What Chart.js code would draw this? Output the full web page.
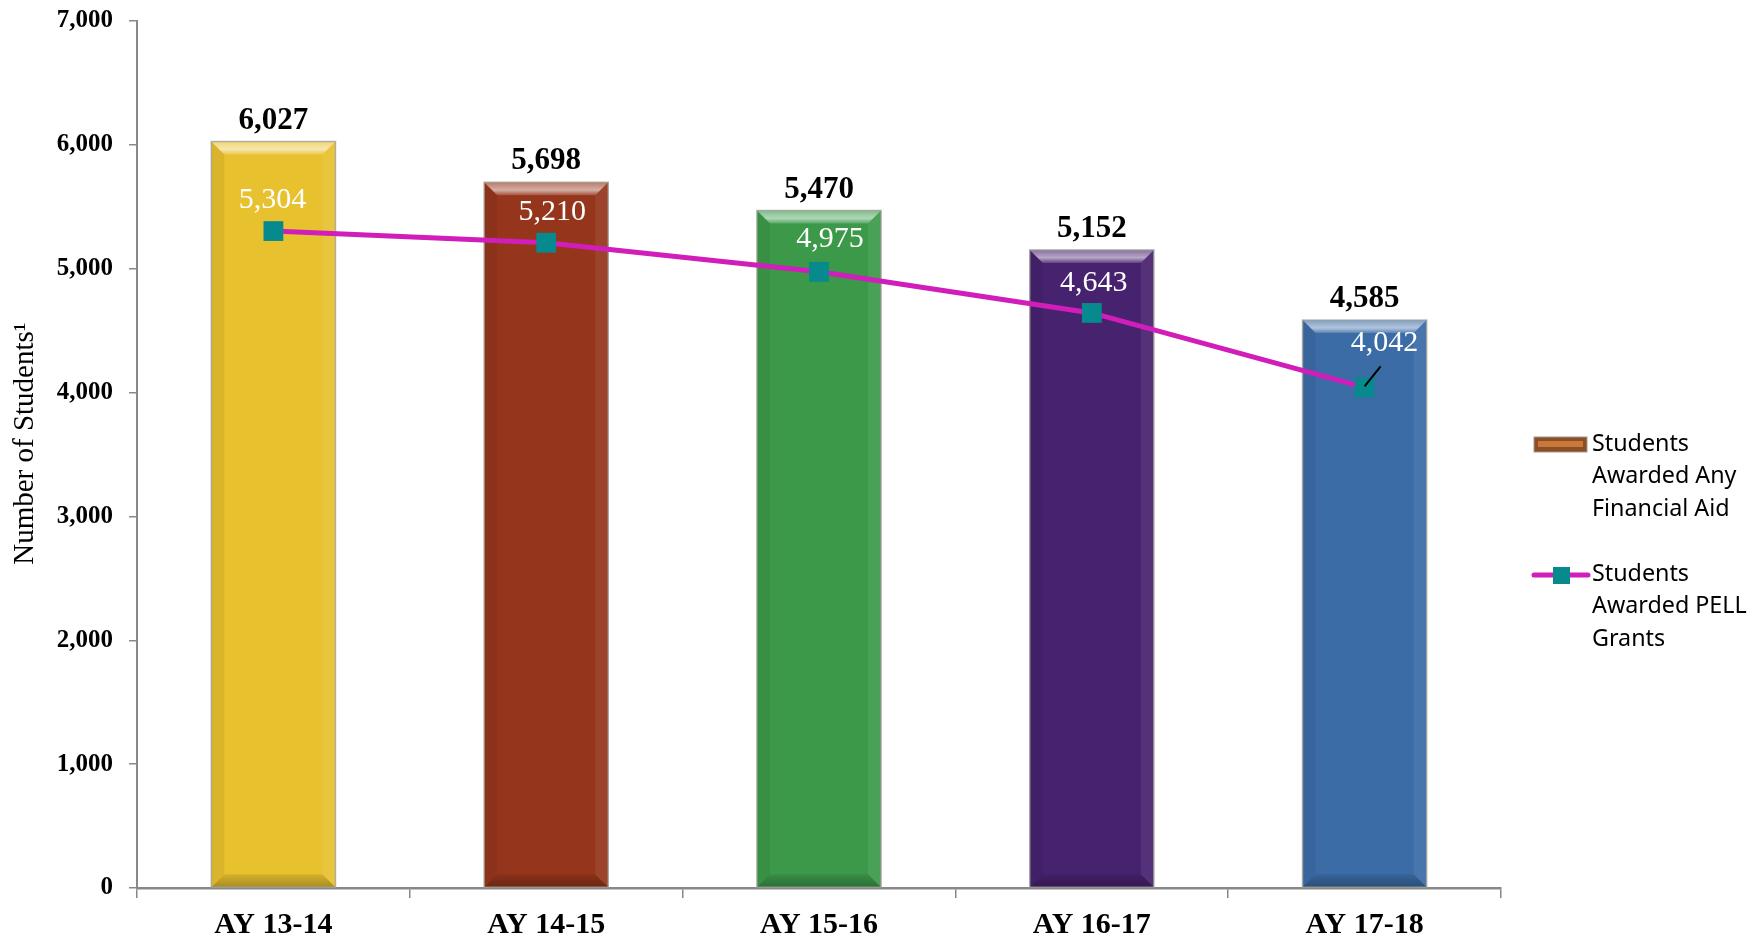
<!DOCTYPE html>
<html>
<head>
<meta charset="utf-8">
<script src="https://cdn.jsdelivr.net/npm/chart.js@4/dist/chart.umd.min.js"></script>
<style>
  html, body { margin: 0; padding: 0; background: #ffffff; }
  #wrap { width: 1758px; height: 940px; position: relative; }
</style>
</head>
<body>
<div id="wrap"><canvas id="c" width="1758" height="940"></canvas></div>
<script>
// ---- data ----
const categories = ['AY 13-14', 'AY 14-15', 'AY 15-16', 'AY 16-17', 'AY 17-18'];
const anyAidValues = [6027, 5698, 5470, 5152, 4585];
const pellValues = [5304, 5210, 4975, 4643, 4042];
const seriesNames = [['Students', 'Awarded Any', 'Financial Aid'], ['Students', 'Awarded PELL', 'Grants']];
const yTitle = 'Number of Students¹';
const yTickMin = 0, yTickMax = 7000, yTickStep = 1000;

// ---- styles ----
const barColors = ['#E8C12F', '#95351C', '#3C994A', '#47226F', '#3B6CA6'];
const lineColor = '#D11DB9';
const pointColor = '#078A8D';
const serif = '"Liberation Serif", "Times New Roman", serif';
const sans = '"Noto Sans", "Liberation Sans", sans-serif';
const lineLabelOffsets = [[-1, -31], [6, -31], [11, -33], [2, -30], [20, -44]];
const leaderIndex = 4;

const fmt = v => v.toLocaleString('en-US');

const bevelPlugin = {
  id: 'bevel',
  afterDatasetDraw(chart, args) {
    if (args.index !== 0) return;
    const ctx = chart.ctx;
    const meta = chart.getDatasetMeta(0);
    meta.data.forEach(bar => {
      const w = bar.width;
      const l = bar.x - w / 2, r = bar.x + w / 2, t = bar.y, b = bar.base;
      const bv = 13;
      ctx.save();
      let g = ctx.createLinearGradient(0, t, 0, t + bv);
      g.addColorStop(0, 'rgba(255,255,255,0.35)');
      g.addColorStop(0.6, 'rgba(255,255,255,0.6)');
      g.addColorStop(1, 'rgba(255,255,255,0.15)');
      ctx.fillStyle = g;
      ctx.beginPath();
      ctx.moveTo(l, t); ctx.lineTo(r, t); ctx.lineTo(r - bv, t + bv); ctx.lineTo(l + bv, t + bv); ctx.closePath();
      ctx.fill();
      g = ctx.createLinearGradient(0, b - bv, 0, b);
      g.addColorStop(0, 'rgba(0,0,0,0.08)');
      g.addColorStop(1, 'rgba(0,0,0,0.28)');
      ctx.fillStyle = g;
      ctx.beginPath();
      ctx.moveTo(l, b); ctx.lineTo(r, b); ctx.lineTo(r - bv, b - bv); ctx.lineTo(l + bv, b - bv); ctx.closePath();
      ctx.fill();
      ctx.fillStyle = 'rgba(0,0,0,0.06)';
      ctx.beginPath();
      ctx.moveTo(l, t); ctx.lineTo(l + bv, t + bv); ctx.lineTo(l + bv, b - bv); ctx.lineTo(l, b); ctx.closePath();
      ctx.fill();
      ctx.fillStyle = 'rgba(255,255,255,0.07)';
      ctx.beginPath();
      ctx.moveTo(r, t); ctx.lineTo(r - bv, t + bv); ctx.lineTo(r - bv, b - bv); ctx.lineTo(r, b); ctx.closePath();
      ctx.fill();
      ctx.strokeStyle = 'rgba(160,160,150,0.8)';
      ctx.lineWidth = 1.5;
      ctx.strokeRect(l, t, w, b - t);
      ctx.restore();
    });
  }
};

const labelPlugin = {
  id: 'valueLabels',
  afterDatasetsDraw(chart) {
    const ctx = chart.ctx;
    ctx.save();
    ctx.textAlign = 'center';
    ctx.textBaseline = 'middle';
    ctx.font = 'bold 31px ' + serif;
    ctx.fillStyle = '#000000';
    chart.getDatasetMeta(0).data.forEach((bar, i) => {
      ctx.fillText(fmt(chart.data.datasets[0].data[i]), bar.x, bar.y - 21);
    });
    const lm = chart.getDatasetMeta(1);
    lm.data.forEach((pt, i) => {
      const off = lineLabelOffsets[i];
      if (i === leaderIndex) {
        ctx.strokeStyle = '#000000';
        ctx.lineWidth = 2;
        ctx.beginPath();
        ctx.moveTo(pt.x, pt.y - 1);
        ctx.lineTo(pt.x + 16, pt.y - 21);
        ctx.stroke();
      }
      ctx.font = '30px ' + serif;
      ctx.fillStyle = '#ffffff';
      ctx.fillText(fmt(chart.data.datasets[1].data[i]), pt.x + off[0], pt.y + off[1]);
    });
    ctx.restore();
  }
};

const legendPlugin = {
  id: 'customLegend',
  afterDraw(chart) {
    const ctx = chart.ctx;
    const x0 = chart.chartArea.right + 31;
    ctx.save();
    const sy = 437;
    ctx.fillStyle = '#8E4D22';
    ctx.fillRect(x0 + 2, sy, 53, 15);
    ctx.fillStyle = '#C7783B';
    ctx.fillRect(x0 + 6, sy + 4, 45, 6);
    ctx.strokeStyle = '#9a9a9a';
    ctx.lineWidth = 1;
    ctx.strokeRect(x0 + 2, sy, 53, 15);
    const ly = 575;
    ctx.strokeStyle = lineColor;
    ctx.lineWidth = 5;
    ctx.lineCap = 'round';
    ctx.beginPath();
    ctx.moveTo(x0 + 2, ly); ctx.lineTo(x0 + 56, ly);
    ctx.stroke();
    ctx.fillStyle = pointColor;
    ctx.fillRect(x0 + 21, ly - 8, 17, 17);
    ctx.fillStyle = '#000000';
    ctx.font = '23.3px ' + sans;
    ctx.textAlign = 'left';
    ctx.textBaseline = 'middle';
    const tx = x0 + 60;
    seriesNames[0].forEach((s, k) => ctx.fillText(s, tx, 444 + k * 32.5));
    seriesNames[1].forEach((s, k) => ctx.fillText(s, tx, 574 + k * 32.5));
    ctx.restore();
  }
};

new Chart(document.getElementById('c'), {
  data: {
    labels: categories,
    datasets: [
      {
        type: 'bar',
        label: seriesNames[0].join(' '),
        data: anyAidValues,
        backgroundColor: barColors,
        borderWidth: 0,
        barPercentage: 0.455,
        categoryPercentage: 1.0,
        order: 1
      },
      {
        type: 'line',
        label: seriesNames[1].join(' '),
        data: pellValues,
        borderColor: lineColor,
        borderWidth: 5,
        tension: 0,
        pointStyle: 'rect',
        pointRadius: 14,
        pointHoverRadius: 14,
        pointBackgroundColor: pointColor,
        pointBorderColor: pointColor,
        pointBorderWidth: 0,
        order: 0
      }
    ]
  },
  options: {
    responsive: false,
    animation: false,
    devicePixelRatio: 1,
    layout: { padding: { top: 21, right: 257, bottom: 0, left: 0 } },
    plugins: {
      legend: { display: false },
      tooltip: { enabled: false }
    },
    scales: {
      x: {
        grid: { display: true, drawOnChartArea: false, offset: true, tickLength: 10, color: '#888888', lineWidth: 1.5 },
        border: { display: true, color: '#888888', width: 2.5 },
        ticks: { color: '#000000', font: { family: serif, size: 30, weight: 'bold' }, padding: 9, maxRotation: 0 },
        afterFit(scale) { scale.height = 52; }
      },
      y: {
        min: yTickMin,
        max: yTickMax,
        ticks: {
          stepSize: yTickStep,
          color: '#000000',
          font: { family: serif, size: 25, weight: 'bold' },
          padding: 16,
          callback: v => fmt(v)
        },
        grid: { display: true, drawOnChartArea: false, tickLength: 8, color: '#888888', lineWidth: 1.5 },
        border: { display: true, color: '#888888', width: 2 },
        title: {
          display: true,
          text: '   ' + yTitle,
          color: '#000000',
          font: { family: serif, size: 29, weight: 'normal' },
          padding: { top: 8, bottom: 0 }
        },
        afterFit(scale) {
          scale.width = 137;
          scale.paddingTop = 0;
          scale.paddingBottom = 0;
        }
      }
    }
  },
  plugins: [bevelPlugin, labelPlugin, legendPlugin]
});
</script>
</body>
</html>
